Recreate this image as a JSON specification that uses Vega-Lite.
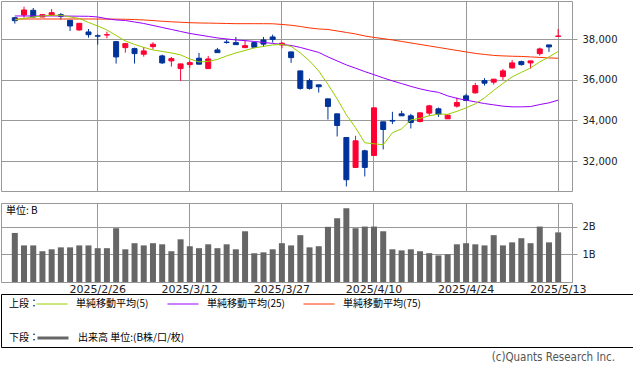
{
  "$schema": "https://vega.github.io/schema/vega-lite/v6.json",
  "padding": 0,
  "background": "white",
  "bounds": "flush",
  "spacing": 12,
  "resolve": {
    "scale": {"x": "independent", "y": "independent", "color": "independent"},
    "legend": {"color": "independent"}
  },
  "datasets": {
    "px": [
      {"d":"2025/2/12","o":39060,"h":39100,"l":38770,"c":38915,"v":1.77,"m5":38949,"m25":39146,"m75":38995},
      {"d":"2025/2/13","o":39195,"h":39603,"l":39062,"c":39441,"v":1.32,"m5":39023,"m25":39146,"m75":38998},
      {"d":"2025/2/14","o":39426,"h":39539,"l":39082,"c":39097,"v":1.32,"m5":39097,"m25":39146,"m75":38998},
      {"d":"2025/2/17","o":39097,"h":39244,"l":39090,"c":39210,"v":1.11,"m5":39146,"m25":39146,"m75":38998},
      {"d":"2025/2/18","o":39180,"h":39490,"l":39170,"c":39308,"v":1.18,"m5":39180,"m25":39146,"m75":38998},
      {"d":"2025/2/19","o":39210,"h":39293,"l":38964,"c":39131,"v":1.25,"m5":39180,"m25":39146,"m75":38998},
      {"d":"2025/2/20","o":38934,"h":38949,"l":38408,"c":38654,"v":1.25,"m5":39097,"m25":39140,"m75":38998},
      {"d":"2025/2/21","o":38457,"h":38800,"l":38423,"c":38787,"v":1.32,"m5":39023,"m25":39135,"m75":38998},
      {"d":"2025/2/25","o":38359,"h":38507,"l":38079,"c":38226,"v":1.32,"m5":38826,"m25":39131,"m75":38998},
      {"d":"2025/2/26","o":38172,"h":38246,"l":37734,"c":38152,"v":1.22,"m5":38654,"m25":39097,"m75":38995},
      {"d":"2025/2/27","o":38210,"h":38374,"l":38049,"c":38226,"v":1.22,"m5":38457,"m25":39010,"m75":38992},
      {"d":"2025/2/28","o":37882,"h":37916,"l":36800,"c":37130,"v":1.94,"m5":38187,"m25":38949,"m75":38990},
      {"d":"2025/3/3","o":37587,"h":37818,"l":37341,"c":37784,"v":1.18,"m5":37916,"m25":38925,"m75":38984},
      {"d":"2025/3/4","o":37538,"h":37587,"l":36800,"c":37292,"v":1.40,"m5":37744,"m25":38851,"m75":38970},
      {"d":"2025/3/5","o":37262,"h":37621,"l":37144,"c":37425,"v":1.32,"m5":37597,"m25":38777,"m75":38949},
      {"d":"2025/3/6","o":37636,"h":37852,"l":37508,"c":37754,"v":1.40,"m5":37474,"m25":38679,"m75":38920},
      {"d":"2025/3/7","o":37179,"h":37243,"l":36786,"c":36835,"v":1.36,"m5":37400,"m25":38580,"m75":38885},
      {"d":"2025/3/10","o":36933,"h":37130,"l":36653,"c":37046,"v":1.11,"m5":37326,"m25":38482,"m75":38860},
      {"d":"2025/3/11","o":36554,"h":36790,"l":35949,"c":36785,"v":1.54,"m5":37228,"m25":38384,"m75":38836},
      {"d":"2025/3/12","o":36751,"h":36948,"l":36588,"c":36849,"v":1.29,"m5":37031,"m25":38285,"m75":38815},
      {"d":"2025/3/13","o":37066,"h":37326,"l":36760,"c":36771,"v":1.22,"m5":36884,"m25":38211,"m75":38802},
      {"d":"2025/3/14","o":36554,"h":37179,"l":36550,"c":37031,"v":1.36,"m5":36908,"m25":38138,"m75":38795},
      {"d":"2025/3/17","o":37474,"h":37572,"l":37335,"c":37341,"v":1.22,"m5":37007,"m25":38064,"m75":38787},
      {"d":"2025/3/18","o":37860,"h":37980,"l":37784,"c":37840,"v":1.36,"m5":37179,"m25":38015,"m75":38777},
      {"d":"2025/3/19","o":37833,"h":38113,"l":37730,"c":37734,"v":1.18,"m5":37326,"m25":37966,"m75":38767},
      {"d":"2025/3/21","o":37587,"h":37951,"l":37580,"c":37685,"v":1.83,"m5":37449,"m25":37931,"m75":38767},
      {"d":"2025/3/24","o":37833,"h":37882,"l":37600,"c":37607,"v":1.04,"m5":37572,"m25":37892,"m75":38767},
      {"d":"2025/3/25","o":37966,"h":38113,"l":37636,"c":37760,"v":1.07,"m5":37646,"m25":37843,"m75":38765},
      {"d":"2025/3/26","o":38113,"h":38226,"l":37833,"c":37990,"v":1.18,"m5":37720,"m25":37794,"m75":38762},
      {"d":"2025/3/27","o":37720,"h":37866,"l":37557,"c":37803,"v":1.40,"m5":37744,"m25":37744,"m75":38728},
      {"d":"2025/3/28","o":37376,"h":37380,"l":36835,"c":37095,"v":1.32,"m5":37646,"m25":37695,"m75":38689},
      {"d":"2025/3/31","o":36441,"h":36445,"l":35520,"c":35580,"v":1.69,"m5":37326,"m25":37597,"m75":38630},
      {"d":"2025/4/1","o":35964,"h":36062,"l":35520,"c":35580,"v":1.25,"m5":36933,"m25":37474,"m75":38556},
      {"d":"2025/4/2","o":35753,"h":35760,"l":35374,"c":35660,"v":1.29,"m5":36441,"m25":37351,"m75":38507},
      {"d":"2025/4/3","o":35064,"h":35070,"l":34046,"c":34690,"v":1.99,"m5":35777,"m25":37130,"m75":38482},
      {"d":"2025/4/4","o":34326,"h":34330,"l":33210,"c":33751,"v":2.30,"m5":35064,"m25":36933,"m75":38408},
      {"d":"2025/4/7","o":33161,"h":33165,"l":30751,"c":31080,"v":2.66,"m5":34277,"m25":36736,"m75":38334},
      {"d":"2025/4/8","o":31686,"h":33244,"l":31680,"c":32999,"v":1.94,"m5":33638,"m25":36574,"m75":38261},
      {"d":"2025/4/9","o":32506,"h":32556,"l":31243,"c":31686,"v":2.00,"m5":32900,"m25":36407,"m75":38162},
      {"d":"2025/4/10","o":32275,"h":34625,"l":32270,"c":34621,"v":2.00,"m5":32851,"m25":36254,"m75":38089},
      {"d":"2025/4/11","o":33933,"h":33937,"l":32571,"c":33554,"v":1.83,"m5":32802,"m25":36097,"m75":38030},
      {"d":"2025/4/14","o":34000,"h":34425,"l":33820,"c":33970,"v":1.18,"m5":33392,"m25":35949,"m75":37966},
      {"d":"2025/4/15","o":34326,"h":34474,"l":34220,"c":34228,"v":1.14,"m5":33589,"m25":35816,"m75":37892},
      {"d":"2025/4/16","o":34228,"h":34326,"l":33604,"c":33898,"v":1.18,"m5":34031,"m25":35679,"m75":37818},
      {"d":"2025/4/17","o":33948,"h":34380,"l":33898,"c":34376,"v":1.11,"m5":34105,"m25":35556,"m75":37744},
      {"d":"2025/4/18","o":34361,"h":34769,"l":34228,"c":34720,"v":1.04,"m5":34228,"m25":35457,"m75":37671},
      {"d":"2025/4/21","o":34572,"h":34636,"l":34179,"c":34312,"v":0.96,"m5":34312,"m25":35384,"m75":37597},
      {"d":"2025/4/22","o":34080,"h":34292,"l":34070,"c":34262,"v":1.00,"m5":34302,"m25":35211,"m75":37523},
      {"d":"2025/4/23","o":34705,"h":35128,"l":34636,"c":34882,"v":1.36,"m5":34449,"m25":35089,"m75":37449},
      {"d":"2025/4/24","o":35211,"h":35310,"l":34970,"c":34980,"v":1.40,"m5":34621,"m25":35000,"m75":37375},
      {"d":"2025/4/25","o":35359,"h":35851,"l":35325,"c":35718,"v":1.36,"m5":34818,"m25":34916,"m75":37302},
      {"d":"2025/4/28","o":35964,"h":36082,"l":35718,"c":35836,"v":1.32,"m5":35113,"m25":34833,"m75":37252},
      {"d":"2025/4/30","o":35885,"h":36040,"l":35767,"c":36033,"v":1.69,"m5":35482,"m25":34769,"m75":37203},
      {"d":"2025/5/1","o":36161,"h":36539,"l":35998,"c":36441,"v":1.32,"m5":35826,"m25":34705,"m75":37179},
      {"d":"2025/5/2","o":36588,"h":36982,"l":36554,"c":36835,"v":1.43,"m5":36146,"m25":34670,"m75":37164},
      {"d":"2025/5/7","o":36898,"h":36948,"l":36702,"c":36751,"v":1.58,"m5":36367,"m25":34670,"m75":37154},
      {"d":"2025/5/8","o":36835,"h":36940,"l":36554,"c":36933,"v":1.40,"m5":36588,"m25":34685,"m75":37130},
      {"d":"2025/5/9","o":37292,"h":37587,"l":37194,"c":37523,"v":2.00,"m5":36884,"m25":34784,"m75":37105},
      {"d":"2025/5/12","o":37720,"h":37725,"l":37376,"c":37622,"v":1.43,"m5":37130,"m25":34867,"m75":37080},
      {"d":"2025/5/13","o":38140,"h":38507,"l":38113,"c":38160,"v":1.79,"m5":37400,"m25":35000,"m75":37066}
    ]
  },
  "vconcat": [
    {
      "width": 571,
      "height": 190,
      "data": {"name": "px"},
      "encoding": {
        "x": {
          "field": "d", "type": "ordinal", "sort": null,
          "scale": {"paddingInner": 0, "paddingOuter": 4.12},
          "axis": {
            "values": ["2025/2/26","2025/3/12","2025/3/27","2025/4/10","2025/4/24","2025/5/13"],
            "labels": false, "ticks": false, "domain": false, "grid": true,
            "bandPosition": 0.5, "title": null
          }
        }
      },
      "layer": [
        {
          "mark": {"type": "rule", "strokeWidth": 1},
          "encoding": {
            "y": {
              "field": "l", "type": "quantitative",
              "scale": {"domain": [30525, 39884], "zero": false, "nice": false},
              "axis": {
                "orient": "right", "values": [32000, 34000, 36000, 38000],
                "labelExpr": "format(datum.value, ',')",
                "grid": true, "ticks": true, "tickSize": 5, "labelPadding": 5,
                "labelFontSize": 10, "domain": false, "title": null
              }
            },
            "y2": {"field": "h"},
            "color": {"condition": {"test": "datum.c >= datum.o", "value": "#ff0033"}, "value": "#003399"}
          }
        },
        {
          "mark": {"type": "bar", "size": 5, "strokeWidth": 1},
          "encoding": {
            "y": {"field": "o", "type": "quantitative"},
            "y2": {"field": "c"},
            "color": {"condition": {"test": "datum.c >= datum.o", "value": "#ff0033"}, "value": "#003399"},
            "stroke": {"condition": {"test": "datum.c >= datum.o", "value": "#ff0033"}, "value": "#003399"}
          }
        },
        {
          "mark": {"type": "line", "strokeWidth": 1},
          "encoding": {
            "y": {"field": "m75", "type": "quantitative"},
            "color": {
              "datum": "単純移動平均(75)",
              "scale": {
                "domain": ["単純移動平均(5)", "単純移動平均(25)", "単純移動平均(75)"],
                "range": ["#99cc00", "#9900ff", "#ff3300"]
              },
              "legend": {
                "orient": "none", "legendX": 8, "legendY": 297,
                "direction": "horizontal", "title": "上段：", "titleOrient": "left",
                "titleBaseline": "middle",
                "titleFont": "Noto Sans CJK JP", "titleFontSize": 10, "titleFontWeight": "normal",
                "titleColor": "#000", "titlePadding": 7,
                "labelFont": "Noto Sans CJK JP", "labelFontSize": 10, "labelColor": "#000",
                "labelOffset": 18, "symbolType": "M-3,0H3", "symbolSize": 107,
                "symbolStrokeWidth": 1, "columnPadding": 16, "padding": 0
              }
            }
          }
        },
        {
          "mark": {"type": "line", "strokeWidth": 1},
          "encoding": {
            "y": {"field": "m25", "type": "quantitative"},
            "color": {"datum": "単純移動平均(25)"}
          }
        },
        {
          "mark": {"type": "line", "strokeWidth": 1},
          "encoding": {
            "y": {"field": "m5", "type": "quantitative"},
            "color": {"datum": "単純移動平均(5)"}
          }
        }
      ]
    },
    {
      "width": 571,
      "height": 79,
      "title": {
        "text": "単位: B", "anchor": "start", "offset": -13, "dx": 5,
        "fontSize": 10, "fontWeight": "normal", "font": "Noto Sans CJK JP", "color": "#000"
      },
      "data": {"name": "px"},
      "mark": {"type": "bar", "size": 6},
      "encoding": {
        "x": {
          "field": "d", "type": "ordinal", "sort": null,
          "scale": {"paddingInner": 0, "paddingOuter": 4.12},
          "axis": {
            "values": ["2025/2/26","2025/3/12","2025/3/27","2025/4/10","2025/4/24","2025/5/13"],
            "labelAngle": 0, "ticks": false, "tickSize": 0, "labelPadding": 1,
            "labelFontSize": 11, "domain": false, "grid": true,
            "bandPosition": 0.5, "title": null
          }
        },
        "y": {
          "field": "v", "type": "quantitative",
          "scale": {"domain": [0, 2.85], "nice": false},
          "axis": {
            "orient": "right", "values": [1, 2], "labelExpr": "datum.value + 'B'",
            "grid": true, "ticks": true, "tickSize": 5, "labelPadding": 5,
            "labelFontSize": 10, "domain": false, "title": null
          }
        },
        "color": {
          "datum": "出来高 単位:(B株/口/枚)",
          "scale": {"range": ["#666666"]},
          "legend": {
            "orient": "none", "legendX": 8, "legendY": 128,
            "direction": "horizontal", "title": "下段：", "titleOrient": "left",
            "titleBaseline": "middle",
            "titleFont": "Noto Sans CJK JP", "titleFontSize": 10, "titleFontWeight": "normal",
            "titleColor": "#000", "titlePadding": 7,
            "labelFont": "Noto Sans CJK JP", "labelFontSize": 10, "labelColor": "#000",
            "labelOffset": 18, "symbolType": "M-3,0H3", "symbolSize": 107,
            "symbolStrokeWidth": 3, "symbolStrokeColor": "#666666", "padding": 0
          }
        }
      }
    },
    {
      "width": 632,
      "height": 53,
      "view": {"stroke": "#000000", "strokeWidth": 1},
      "title": {
        "text": "(c)Quants Research Inc.", "orient": "bottom", "anchor": "end",
        "offset": 5, "dx": -18, "fontSize": 11.5, "fontWeight": "normal",
        "font": "Liberation Sans Narrow, DejaVu Sans Condensed, Liberation Sans", "color": "#555555"
      },
      "data": {"values": [{}]},
      "mark": {"type": "text"},
      "encoding": {"text": {"value": ""}}
    }
  ],
  "config": {
    "view": {"stroke": "#999999", "strokeWidth": 1},
    "axis": {
      "gridColor": "#999999", "gridWidth": 1, "gridOpacity": 1,
      "tickColor": "#999999", "labelFont": "DejaVu Sans", "labelColor": "#222222"
    }
  }
}
